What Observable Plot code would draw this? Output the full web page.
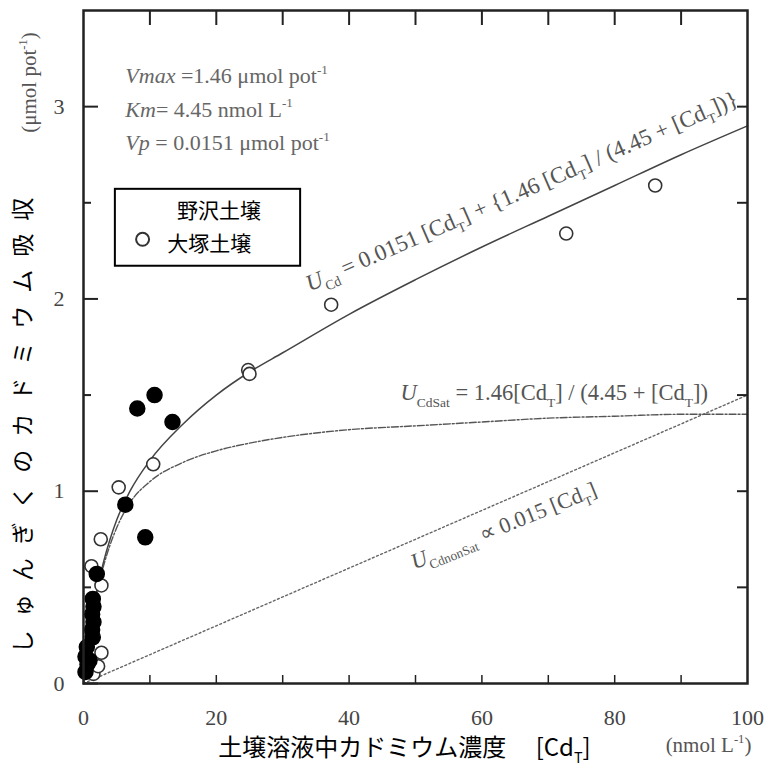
<!DOCTYPE html>
<html><head><meta charset="utf-8">
<script src="https://cdn.jsdelivr.net/npm/d3@7"></script>
<script src="https://cdn.jsdelivr.net/npm/@observablehq/plot@0.6"></script>
<style>body{margin:0;background:#fff} svg{display:block}</style>
</head><body><div id="chart"></div>
<script>
// ---- data ----
const xTickLabels = [0, 20, 40, 60, 80, 100];
const yTickLabels = [0, 1, 2, 3];
const yMinorTicks = [0.5, 1.5, 2.5];
const yRightTicks = [0.5, 1, 1.5, 2, 2.5, 3];
const xMinorTicks = [10, 20, 30, 40, 50, 60, 70, 80, 90];

// Nozawa soil (filled)
const nozawaX = [0.3, 0.5, 0.3, 0.6, 0.9, 1.4, 1.3, 1.5, 1.3, 1.5, 1.4, 2.0, 6.3, 9.3, 8.1, 10.7, 13.4];
const nozawaY = [0.06, 0.19, 0.14, 0.10, 0.12, 0.24, 0.28, 0.32, 0.36, 0.40, 0.44, 0.57, 0.93, 0.76, 1.43, 1.50, 1.36];
// Otsuka soil (open)
const otsukaX = [1.5, 2.2, 2.7, 2.7, 1.2, 2.6, 5.3, 10.5, 24.8, 25.0, 37.3, 72.7, 86.1];
const otsukaY = [0.05, 0.09, 0.16, 0.51, 0.61, 0.75, 1.02, 1.14, 1.63, 1.61, 1.97, 2.34, 2.59];

// curves
const curveX = [0, 0.5, 1, 2, 3, 4, 5, 7, 10, 15, 20, 25, 30, 40, 50, 60, 70, 80, 90, 100];
const uCd    = [0, 0.16, 0.28, 0.48, 0.63, 0.75, 0.85, 1.00, 1.16, 1.35, 1.50, 1.62, 1.72, 1.92, 2.10, 2.27, 2.43, 2.59, 2.75, 2.90];
const uSat   = [0, 0.15, 0.28, 0.47, 0.61, 0.72, 0.81, 0.94, 1.05, 1.15, 1.21, 1.25, 1.28, 1.32, 1.34, 1.36, 1.38, 1.39, 1.40, 1.40];
const nonSatX = [0, 100];
const nonSatY = [0, 1.5];

const legendLabels = ["野沢土壌", "大塚土壌"];
const yTitle = "しゅんぎくのカドミウム吸収";

// ---- tables ----
const nozawa = nozawaX.map((x, i) => ({x, y: nozawaY[i]}));
const otsuka = otsukaX.map((x, i) => ({x, y: otsukaY[i]}));
const cdLine = curveX.map((x, i) => ({x, y: uCd[i]}));
const satLine = curveX.map((x, i) => ({x, y: uSat[i]}));
const nonSatLine = nonSatX.map((x, i) => ({x, y: nonSatY[i]}));

const W = 766, H = 769, ML = 83, MR = 19, MT = 10, MB = 86;
const FW = W - ML - MR, FH = H - MT - MB;
const serif = "Liberation Serif, Times New Roman, serif";
const cjk = "Noto Sans CJK JP, sans-serif";
const axisCol = "#222";
const txtCol = "#555";

const chart = Plot.plot({
  width: W, height: H,
  marginLeft: ML, marginRight: MR, marginTop: MT, marginBottom: MB,
  x: {domain: [0, 100], axis: null},
  y: {domain: [0, 3.5], axis: null},
  style: {background: "#fff", fontFamily: serif},
  marks: [
    // curves
    Plot.line(nonSatLine, {x: "x", y: "y", stroke: "#666", strokeWidth: 1.4, strokeDasharray: "2,2.5"}),
    Plot.line(satLine, {x: "x", y: "y", curve: "monotone-x", stroke: "#555", strokeWidth: 1.4, strokeDasharray: "7,2,2,2"}),
    Plot.line(cdLine, {x: "x", y: "y", curve: "monotone-x", stroke: "#444", strokeWidth: 1.5}),
    // points
    Plot.dot(otsuka, {x: "x", y: "y", r: 6.5, fill: "#fff", stroke: "#333", strokeWidth: 1.6}),
    Plot.dot(nozawa, {x: "x", y: "y", r: 7.5, fill: "#000", stroke: "#000"}),
    // frame + inward ticks
    Plot.frame({stroke: axisCol, strokeWidth: 2.5}),
    Plot.tickY(yTickLabels, {y: d => d, insetRight: FW - 15, stroke: axisCol, strokeWidth: 2}),
    Plot.tickY(yMinorTicks, {y: d => d, insetRight: FW - 8, stroke: axisCol, strokeWidth: 2}),
    Plot.tickY(yRightTicks, {y: d => d, insetLeft: FW - 10, stroke: axisCol, strokeWidth: 2}),
    Plot.tickX(xMinorTicks, {x: d => d, insetBottom: FH - 15, stroke: axisCol, strokeWidth: 2}),
    Plot.tickX(xMinorTicks, {x: d => d, insetTop: FH - 8, stroke: axisCol, strokeWidth: 1.5}),
    // tick labels
    Plot.text(xTickLabels, {x: d => d, text: d => String(d), frameAnchor: "bottom", dy: 34, lineAnchor: "middle", textAnchor: "middle", fontSize: 22, fill: "#444"}),
    Plot.text(yTickLabels, {y: d => d, text: d => String(d), frameAnchor: "left", dx: -19, lineAnchor: "middle", textAnchor: "end", fontSize: 22, fill: "#444"}),
    // axis titles
    Plot.text([yTitle], {frameAnchor: "left", dx: -60, dy: 72, rotate: -90, textAnchor: "middle", lineAnchor: "middle", fontSize: 23, fontFamily: cjk, fill: "#000"}),
    Plot.text(["(μmol pot^{-1})"], {frameAnchor: "top-left", dx: -54, dy: 72, rotate: -90, textAnchor: "middle", lineAnchor: "middle", fontSize: 21, fill: txtCol}),
    Plot.text(["土壌溶液中カドミウム濃度　 [Cd_{T}]"], {frameAnchor: "bottom", dx: -11, dy: 65, textAnchor: "middle", lineAnchor: "middle", fontSize: 24, fontFamily: cjk, fill: "#000"}),
    Plot.text(["(nmol L^{-1})"], {frameAnchor: "bottom-right", dx: -39, dy: 62, textAnchor: "middle", lineAnchor: "middle", fontSize: 21, fill: txtCol}),
    // parameter annotations
    Plot.text(["*Vmax* =1.46 μmol pot^{-1}"], {x: 6.3, y: 3.16, textAnchor: "start", fontSize: 22, fill: "#666"}),
    Plot.text(["*Km*= 4.45 nmol L^{-1}"], {x: 6.3, y: 2.985, textAnchor: "start", fontSize: 22, fill: "#666"}),
    Plot.text(["*Vp* = 0.0151 μmol pot^{-1}"], {x: 6.3, y: 2.81, textAnchor: "start", fontSize: 22, fill: "#666"}),
    // curve labels
    Plot.text(["*U*_{Cd} = 0.0151 [Cd_{T}] + {1.46 [Cd_{T}] / (4.45 + [Cd_{T}])}"], {x: 66.0, y: 2.56, rotate: -23.5, fontSize: 23, fill: txtCol}),
    Plot.text(["*U*_{CdSat} = 1.46[Cd_{T}] / (4.45 + [Cd_{T}])"], {x: 70.9, y: 1.51, fontSize: 22.5, fill: txtCol}),
    Plot.text(["*U*_{CdnonSat} ∝ 0.015 [Cd_{T}]"], {x: 63.3, y: 0.82, rotate: -22, fontSize: 22, fill: txtCol}),
    // legend
    Plot.rect([0], {x1: 4.8, x2: 32.7, y1: 2.17, y2: 2.57, fill: "#fff", stroke: "#000", strokeWidth: 2}),
    Plot.dot([0], {x: 8.9, y: 2.31, r: 6.5, fill: "#fff", stroke: "#333", strokeWidth: 2}),
    Plot.text([legendLabels[0]], {x: 14.1, y: 2.455, textAnchor: "start", fontSize: 21, fontFamily: cjk, fill: "#000"}),
    Plot.text([legendLabels[1]], {x: 12.6, y: 2.285, textAnchor: "start", fontSize: 21, fontFamily: cjk, fill: "#000"})
  ]
});

document.getElementById("chart").appendChild(chart);

const NS = "http://www.w3.org/2000/svg";
chart.querySelectorAll("text").forEach(el => {
  const s = el.textContent;
  if (s === yTitle) { el.setAttribute("letter-spacing", "13"); el.style.letterSpacing = "13px"; return; }
  // rich text: *italic*, _{sub}, ^{sup}
  if (!/_\{|\^\{|\*/.test(s)) return;
  const fs = parseFloat(getComputedStyle(el).fontSize) || 20;
  while (el.firstChild) el.removeChild(el.firstChild);
  const re = /_\{([^}]*)\}|\^\{([^}]*)\}|\*([^*]+)\*|([^_^*]+)/g;
  let m, cur = 0;
  while ((m = re.exec(s))) {
    const t = document.createElementNS(NS, "tspan");
    let target = 0, text;
    if (m[1] != null) { target = 0.28 * fs; text = m[1]; t.setAttribute("font-size", 0.6 * fs); }
    else if (m[2] != null) { target = -0.42 * fs; text = m[2]; t.setAttribute("font-size", 0.6 * fs); }
    else if (m[3] != null) { text = m[3]; t.setAttribute("font-style", "italic"); }
    else text = m[4];
    if (target !== cur) { t.setAttribute("dy", target - cur); cur = target; }
    t.textContent = text;
    el.appendChild(t);
  }
});
</script>
</body></html>
